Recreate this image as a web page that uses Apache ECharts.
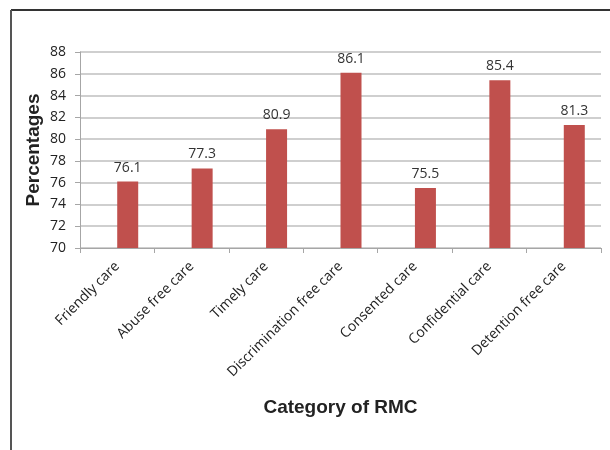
<!DOCTYPE html>
<html>
<head>
<meta charset="utf-8">
<script src="https://cdn.jsdelivr.net/npm/echarts@6/dist/echarts.min.js"></script>
<style>
  html, body { margin: 0; padding: 0; background: #fff; }
  #chart { width: 610px; height: 450px; }
</style>
</head>
<body>
<div id="chart"></div>
<script>
// categories and values
const categories = ['Friendly care', 'Abuse free care', 'Timely care', 'Discrimination free care',
  'Consented care', 'Confidential care', 'Detention free care'];
const percentages = [76.1, 77.3, 80.9, 86.1, 75.5, 85.4, 81.3];
// the original has an empty first series, so the bars sit right of the category centre
const emptySeries = [null, null, null, null, null, null, null];
const yTicks = [70, 72, 74, 76, 78, 80, 82, 84, 86, 88];

const chart = echarts.init(document.getElementById('chart'));
chart.setOption({
  animation: false,
  grid: { left: 80, right: 9, top: 52, bottom: 202 },
  // outer frame lines of the figure
  graphic: [
    { type: 'line', shape: { x1: 11, y1: 10, x2: 610, y2: 10 }, style: { stroke: '#333', lineWidth: 2 } },
    { type: 'line', shape: { x1: 11, y1: 10, x2: 11, y2: 450 }, style: { stroke: '#555', lineWidth: 2 } }
  ],
  xAxis: {
    type: 'category',
    data: categories,
    name: 'Category of RMC',
    nameLocation: 'middle',
    nameGap: 150,
    nameMoveOverlap: false,
    nameTextStyle: { fontFamily: 'Liberation Sans', fontWeight: 'bold', fontSize: 19, color: '#222' },
    axisLine: { lineStyle: { color: '#a6a6a6' } },
    axisTick: { show: true, length: 5, lineStyle: { color: '#a6a6a6' } },
    axisLabel: {
      rotate: 45,
      margin: 16,
      interval: 0,
      fontFamily: 'Open Sans',
      fontSize: 14,
      color: '#222'
    }
  },
  yAxis: {
    type: 'value',
    min: yTicks[0],
    max: yTicks[yTicks.length - 1],
    interval: 2,
    name: 'Percentages',
    nameLocation: 'middle',
    nameGap: 37,
    nameMoveOverlap: false,
    nameTextStyle: { fontFamily: 'Liberation Sans', fontWeight: 'bold', fontSize: 19, color: '#222' },
    axisLine: { show: true, lineStyle: { color: '#a6a6a6' } },
    axisTick: { show: true, length: 5, lineStyle: { color: '#a6a6a6' } },
    axisLabel: { margin: 14, fontFamily: 'Open Sans', fontSize: 14, color: '#222' },
    splitLine: { lineStyle: { color: '#bfbfbf', width: 1.5 } }
  },
  series: [{
    type: 'bar',
    data: emptySeries,
    barWidth: 21,
    barGap: '0%'
  }, {
    type: 'bar',
    data: percentages,
    barWidth: 21,
    barGap: '0%',
    itemStyle: { color: '#c0504d' },
    label: {
      show: true,
      position: 'top',
      distance: 7,
      fontFamily: 'Open Sans',
      fontSize: 14,
      color: '#333',
      formatter: p => p.value.toFixed(1)
    }
  }]
});
</script>
</body>
</html>
